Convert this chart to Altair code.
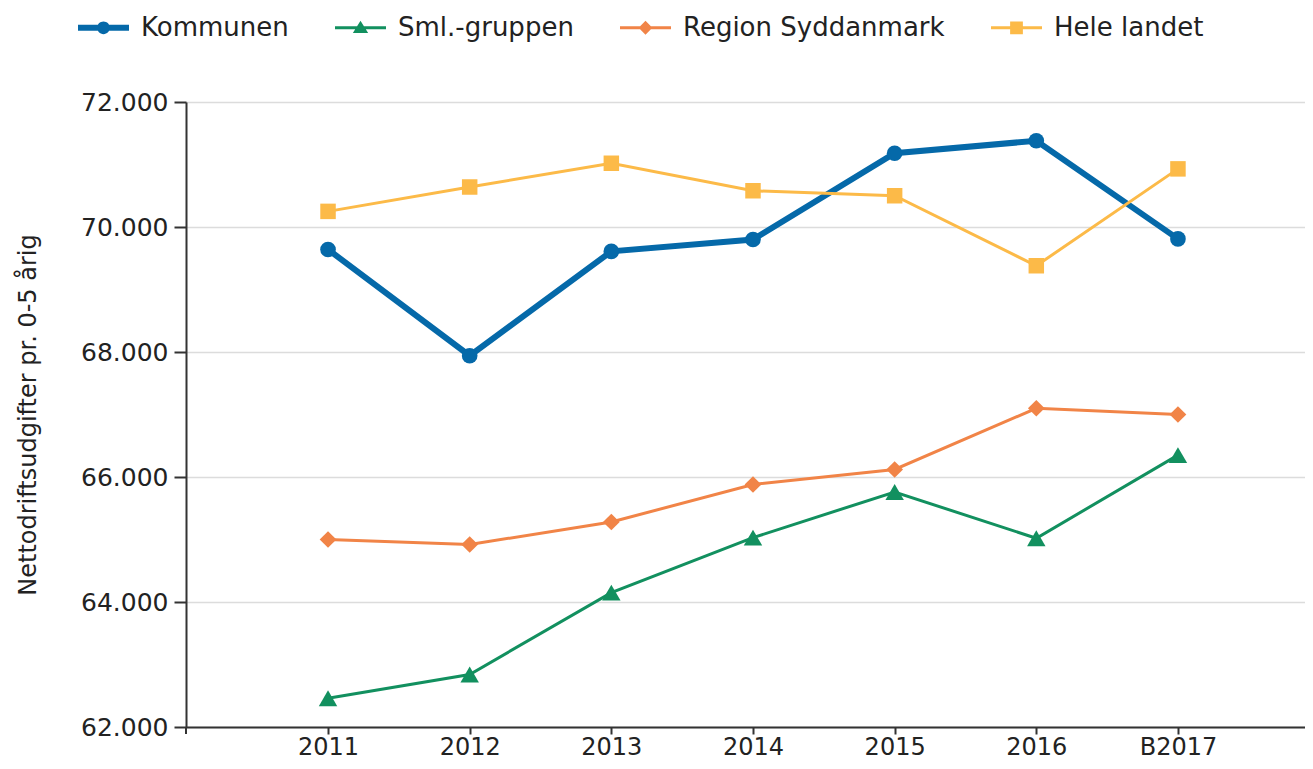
import altair as alt
import pandas as pd

# ---- data ----
years = ["2011", "2012", "2013", "2014", "2015", "2016", "B2017"]
series = ["Kommunen", "Sml.-gruppen", "Region Syddanmark", "Hele landet"]
kommunen = [69640, 67940, 69610, 69800, 71180, 71380, 69810]
sml_gruppen = [62460, 62840, 64150, 65030, 65760, 65020, 66350]
region = [65000, 64920, 65280, 65880, 66120, 67100, 67000]
hele_landet = [70250, 70640, 71020, 70580, 70500, 69380, 70930]
y_ticks = [62000, 64000, 66000, 68000, 70000, 72000]
y_title = "Nettodriftsudgifter pr. 0-5 årig"

# ---- styles ----
colors = ["#0569A9", "#12905F", "#F18447", "#FCBA48"]
line_widths = [6, 3, 3, 3]
shapes = ["circle", "triangle-up", "diamond", "square"]
sizes = [245, 340, 280, 240]
legend_paths = [
    "M-1,-0.118 L1,-0.118 L1,0.118 L-1,0.118 Z M0.25,0 A0.25,0.25 0 1,1 -0.25,0 A0.25,0.25 0 1,1 0.25,0 Z",
    "M-1,-0.06 L1,-0.06 L1,0.06 L-1,0.06 Z M0,-0.27 L0.3,0.21 L-0.3,0.21 Z",
    "M-1,-0.06 L1,-0.06 L1,0.06 L-1,0.06 Z M0,-0.27 L0.27,0 L0,0.27 L-0.27,0 Z",
    "M-1,-0.06 L1,-0.06 L1,0.06 L-1,0.06 Z M-0.25,-0.25 L0.25,-0.25 L0.25,0.25 L-0.25,0.25 Z",
]

FONT = "DejaVu Sans"
TXT = "#222222"
AX = "#333333"
W, H = 1127, 625

rows = []
for s, vals in zip(series, [kommunen, sml_gruppen, region, hele_landet]):
    for yr, v in zip(years, vals):
        rows.append({"Serie": s, "Aar": yr, "Vaerdi": v})
df = pd.DataFrame(rows)

x_enc = alt.X(
    "Aar:O",
    sort=years,
    scale=alt.Scale(type="point", padding=0.978, align=0.5126),
    axis=alt.Axis(
        title=None, labelAngle=0, labelFont=FONT, labelFontSize=24, labelColor=TXT,
        labelPadding=1, tickSize=7, tickColor=AX, tickWidth=2,
        domainColor=AX, domainWidth=2, grid=False,
    ),
)
y_enc = alt.Y(
    "Vaerdi:Q",
    scale=alt.Scale(domain=[62000, 72000], nice=False, zero=False),
    axis=alt.Axis(
        values=y_ticks, title=y_title, titleFont=FONT, titleFontSize=24,
        titleFontWeight="normal", titleColor=TXT, titlePadding=40,
        labelFont=FONT, labelFontSize=25, labelColor=TXT, labelPadding=6,
        tickSize=12, tickColor=AX, tickWidth=2, domainColor=AX, domainWidth=2,
        grid=True, gridColor="#dcdcdc", gridWidth=1.5,
        labelExpr="replace(format(datum.value, ',.0f'), ',', '.')",
    ),
)

layers = []
for i, s in enumerate(series):
    base = alt.Chart(df).transform_filter(alt.datum.Serie == s)
    layers.append(
        base.mark_line(strokeWidth=line_widths[i], color=colors[i]).encode(x=x_enc, y=y_enc)
    )
    layers.append(
        base.mark_point(filled=True, shape=shapes[i], size=sizes[i], color=colors[i], opacity=1)
        .encode(x=x_enc, y=y_enc)
    )

leg_props = dict(
    title=None, orient="none", legendX=-108, legendY=-100, direction="horizontal",
    columns=4, symbolSize=2601, symbolStrokeWidth=0, symbolOpacity=1,
    labelFont=FONT, labelFontSize=26, labelColor=TXT, labelOffset=12,
    columnPadding=46, labelLimit=0, padding=0,
)
legend_layer = (
    alt.Chart(df)
    .transform_filter("false")
    .mark_point(filled=True, opacity=1)
    .encode(
        x=x_enc,
        y=y_enc,
        color=alt.Color("Serie:N", scale=alt.Scale(domain=series, range=colors), legend=alt.Legend(**leg_props)),
        shape=alt.Shape("Serie:N", scale=alt.Scale(domain=series, range=legend_paths), legend=alt.Legend(**leg_props)),
    )
)

edge_tick = alt.Chart(pd.DataFrame({"k": [0]})).mark_rule(color=AX, strokeWidth=2).encode(
    x=alt.value(0), y=alt.value(H), y2=alt.value(H + 7)
)

chart = (
    alt.layer(*layers, legend_layer, edge_tick)
    .properties(
        width=W, height=H,
        autosize=alt.AutoSizeParams(type="none"),
        padding={"left": 178, "top": 94, "right": -8, "bottom": 34},
    )
    .configure_view(stroke=None)
    .configure(font=FONT)
)

chart.save("out.html", embed_options={"renderer": "svg", "actions": False})
